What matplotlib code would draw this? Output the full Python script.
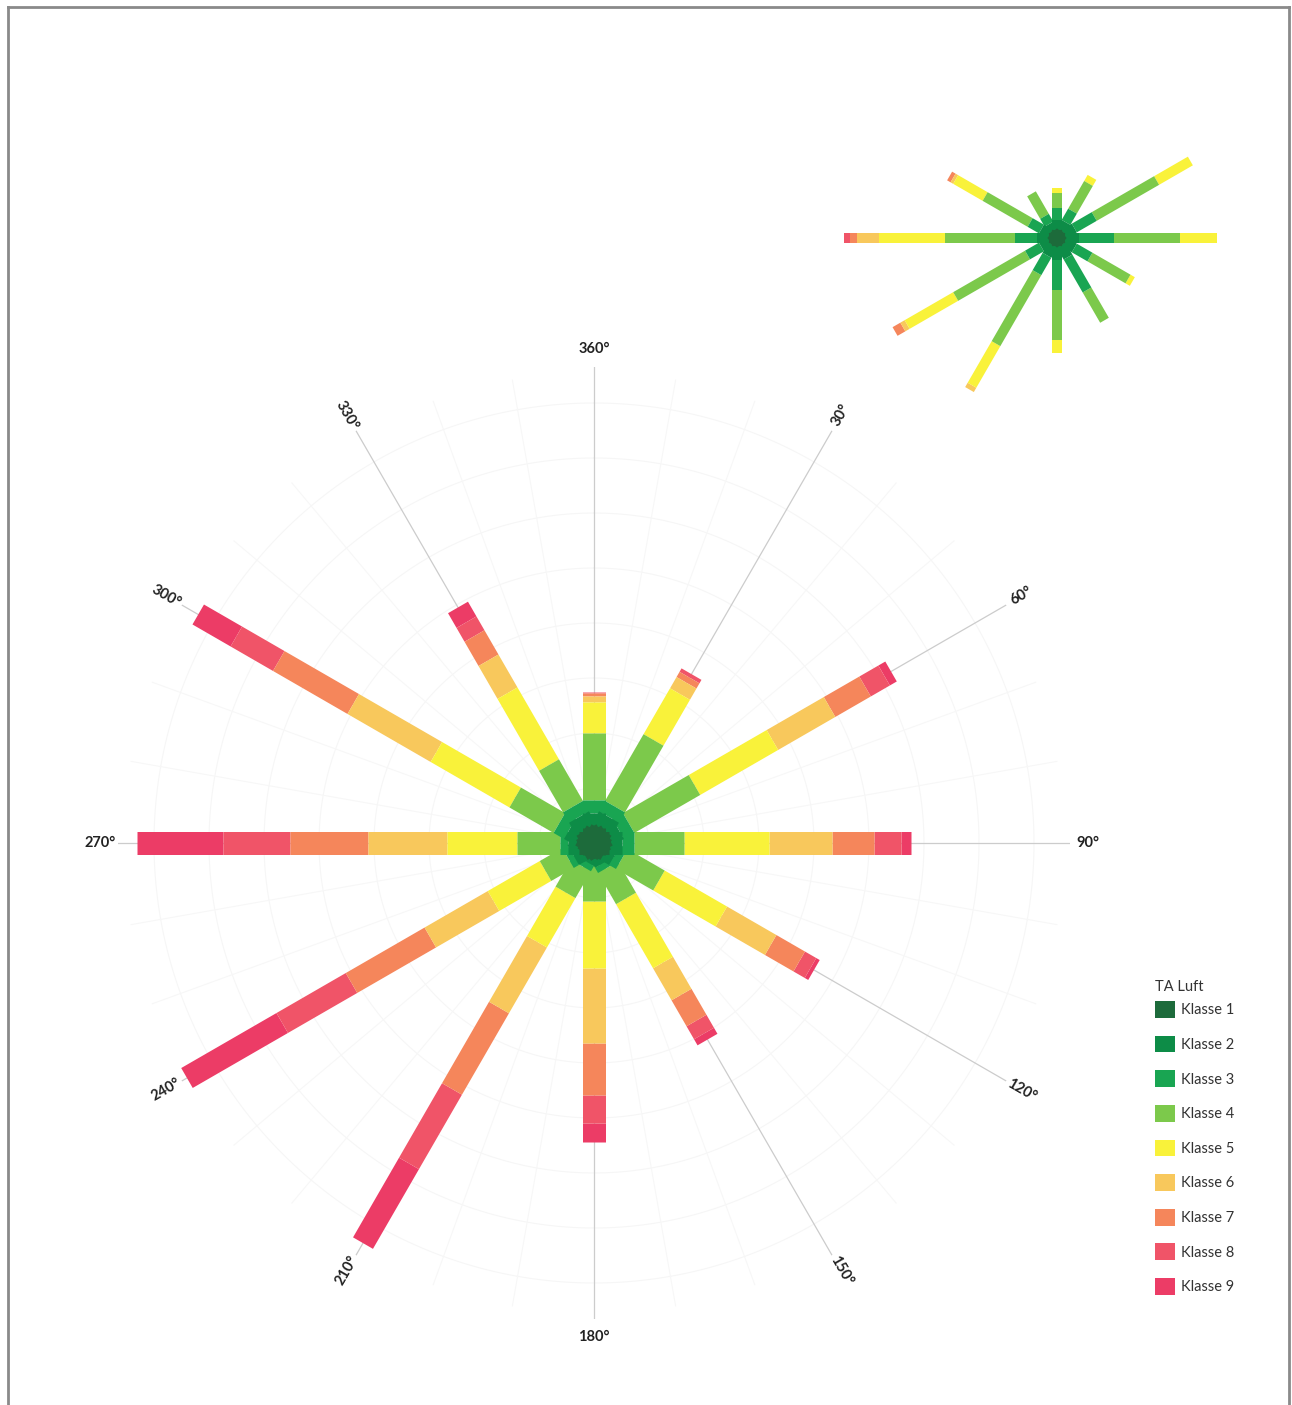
import numpy as np
import matplotlib
matplotlib.use("Agg")
import matplotlib.pyplot as plt
from matplotlib.patches import Patch
from matplotlib.lines import Line2D

plt.rcParams['font.family'] = ['Lato', 'DejaVu Sans']

# wind directions (compass degrees)
directions = [0, 30, 60, 90, 120, 150, 180, 210, 240, 270, 300, 330]
dir_labels = ["360°", "30°", "60°", "90°", "120°", "150°",
              "180°", "210°", "240°", "270°", "300°", "330°"]

classes = ["Klasse 1", "Klasse 2", "Klasse 3", "Klasse 4", "Klasse 5",
           "Klasse 6", "Klasse 7", "Klasse 8", "Klasse 9"]
class_colors = ["#1d6b3b", "#0d8c47", "#19a552", "#7cc94b", "#f9f23a",
                "#f8c85c", "#f5865b", "#f05468", "#ec3c66"]

# main rose: share per class and direction (rows = directions, cols = Klasse 1..9)
main_freq = [
    [15, 15, 13, 67, 31, 6, 3, 1, 0],      # 360
    [15, 15, 12, 77, 53, 13, 6, 4, 0],     # 30
    [15, 13, 12, 76, 90, 66, 41, 22, 8],   # 60
    [15, 13, 12, 50, 85, 63, 42, 27, 10],  # 90
    [14, 10, 8, 43, 72, 57, 33, 13, 4],    # 120
    [14, 8, 6, 36, 74, 37, 30, 15, 7],     # 150
    [12, 6, 4, 36, 67, 75, 52, 28, 19],    # 180
    [13, 7, 6, 31, 57, 76, 94, 86, 92],    # 210
    [14, 10, 6, 26, 60, 73, 91, 80, 110],  # 240
    [15, 11, 8, 43, 70, 79, 78, 67, 86],   # 270
    [15, 13, 12, 51, 91, 96, 86, 49, 44],  # 300
    [15, 15, 12, 48, 83, 38, 28, 16, 17],  # 330
]

# small rose (top right)
small_freq = [
    [8, 10, 12, 15, 5, 0, 0, 0, 0],
    [8, 10, 13, 32, 7, 0, 0, 0, 0],
    [8, 12, 23, 72, 39, 0, 0, 0, 0],
    [8, 14, 35, 66, 37, 0, 0, 0, 0],
    [8, 12, 18, 44, 5, 0, 0, 0, 0],
    [8, 14, 38, 35, 0, 0, 0, 0, 0],
    [8, 14, 30, 50, 13, 0, 0, 0, 0],
    [8, 12, 20, 82, 48, 5, 0, 0, 0],
    [8, 10, 16, 83, 56, 5, 9, 0, 0],
    [8, 12, 22, 70, 66, 22, 7, 6, 0],
    [8, 10, 13, 52, 34, 3, 4, 0, 0],
    [8, 8, 9, 26, 0, 0, 0, 0, 0],
]

W, H = 1292, 1405


def setup_polar(ax, rmax):
    ax.set_theta_zero_location("N")
    ax.set_theta_direction(-1)
    ax.set_ylim(0, rmax)
    ax.set_facecolor("none")
    ax.grid(False)
    ax.set_xticks([])
    ax.set_yticks([])
    ax.spines["polar"].set_visible(False)


def draw_rose(ax, freq, lw):
    theta = np.deg2rad(directions)
    ends = np.cumsum(np.array(freq, dtype=float), axis=1)
    starts = ends - np.array(freq, dtype=float)
    # outer classes first so the inner ones sit on top where bars overlap
    for k in range(len(classes) - 1, -1, -1):
        for i, t in enumerate(theta):
            if freq[i][k] <= 0:
                continue
            ax.plot([t, t], [0 if k == 0 else starts[i, k], ends[i, k]],
                    color=class_colors[k], lw=lw, solid_capstyle="butt",
                    zorder=3 + (len(classes) - k) * 0.01)


fig = plt.figure(figsize=(W / 100, H / 100), dpi=100)

# main rose
cx, cy, R = 594, 843, 476
ax = fig.add_axes([(cx - R) / W, (H - cy - R) / H, 2 * R / W, 2 * R / H],
                  projection="polar")
setup_polar(ax, R)

# very faint grid
circ = np.linspace(0, 2 * np.pi, 361)
for r in np.arange(55, 470, 55):
    ax.plot(circ, np.full_like(circ, r), color="#f6f6f6", lw=0.8, zorder=1)
for a in range(0, 360, 10):
    if a % 30:
        ax.plot([np.deg2rad(a)] * 2, [40, 470], color="#f7f7f7", lw=0.8, zorder=1)
for a in directions:
    ax.plot([np.deg2rad(a)] * 2, [0, 476], color="#cccccc", lw=0.9, zorder=2)

draw_rose(ax, main_freq, lw=23 * 72 / 100)

# direction labels
for a, lab in zip(directions, dir_labels):
    rot = 90 - a
    if a in (0, 180):
        rot = 0
    while rot > 90:
        rot -= 180
    while rot < -90:
        rot += 180
    ax.text(np.deg2rad(a), 494, lab, rotation=rot, rotation_mode="anchor",
            ha="center", va="center", fontsize=10.5, fontweight="bold",
            color="#222222", clip_on=False)

# small rose
sx, sy, sR = 1057, 238, 220
ax2 = fig.add_axes([(sx - sR) / W, (H - sy - sR) / H, 2 * sR / W, 2 * sR / H],
                   projection="polar")
setup_polar(ax2, sR)
draw_rose(ax2, small_freq, lw=10 * 72 / 100)

# legend (title placed separately to keep it close to the first entry)
fig.text(1155 / W, 1 - 987 / H, "TA Luft", ha="left", va="center",
         fontsize=10.5, color="#333333")
handles = [Patch(facecolor=c, edgecolor="none") for c in class_colors]
leg = fig.legend(handles, classes, loc="upper left",
                 bbox_to_anchor=(1155 / W, 1 - 1001 / H), frameon=False,
                 fontsize=10.5, handlelength=1.4,
                 handleheight=1.4, labelspacing=1.22, handletextpad=0.4,
                 borderaxespad=0, borderpad=0)
for t in leg.get_texts():
    t.set_color("#333333")

# scan frame
frame_kw = dict(color="#8a8a8a", lw=2, transform=fig.transFigure)
fig.add_artist(Line2D([8 / W, 1289 / W], [1 - 7 / H, 1 - 7 / H], **frame_kw))
fig.add_artist(Line2D([8 / W, 8 / W], [0, 1 - 7 / H], **frame_kw))
fig.add_artist(Line2D([1289 / W, 1289 / W], [0, 1 - 7 / H], **frame_kw))

fig.savefig("out.png", dpi=100)
